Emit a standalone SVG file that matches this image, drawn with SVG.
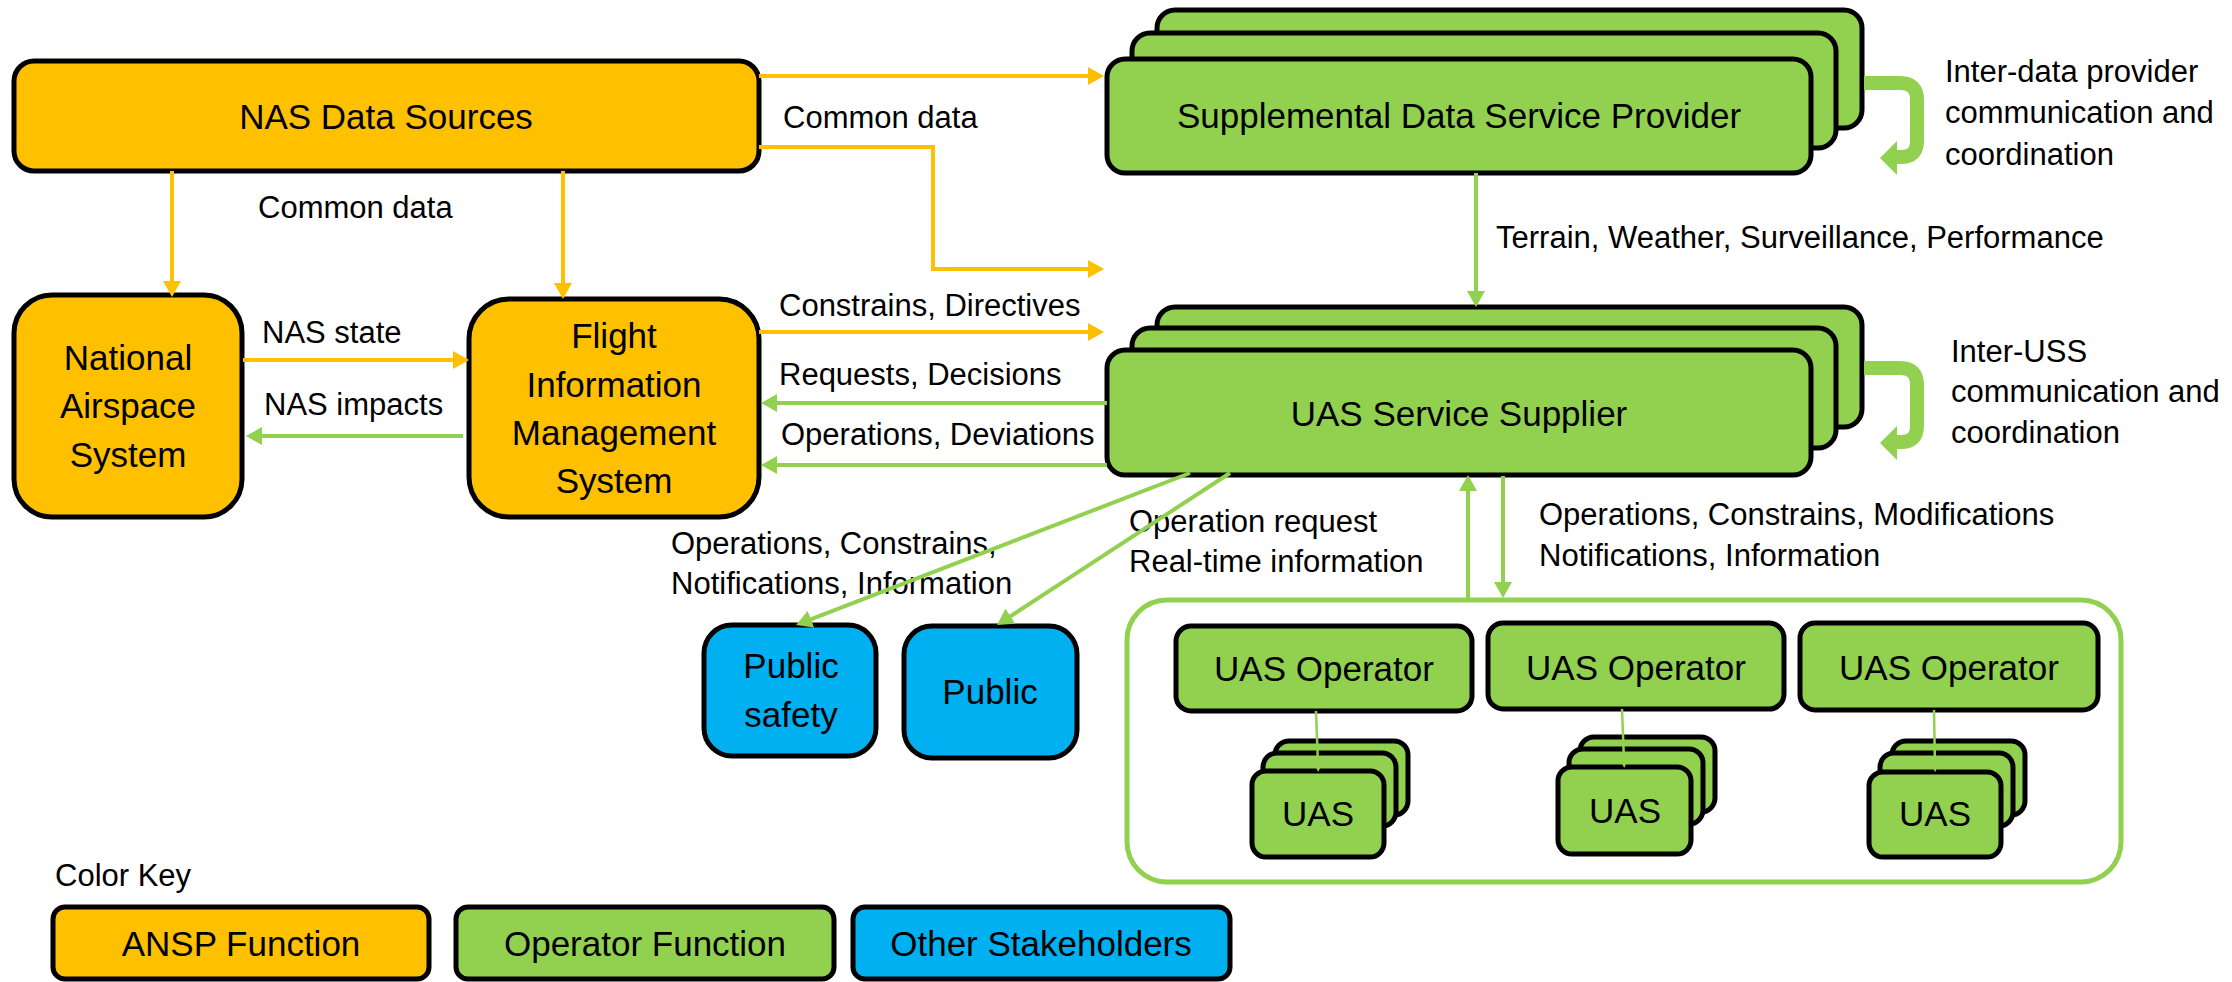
<svg xmlns="http://www.w3.org/2000/svg" width="2232" height="982" viewBox="0 0 2232 982">
<defs>
<style>
.o{fill:#FFC000}.g{fill:#92D050}.b{fill:#00B0F0}
.bx{stroke:#000;stroke-width:5}
.t{font-family:"Liberation Sans",Arial,sans-serif;font-size:35px;fill:#000;text-anchor:middle}
.l{font-family:"Liberation Sans",Arial,sans-serif;font-size:31px;fill:#000}
.co{stroke:#FFC000;stroke-width:4;fill:none}
.cg{stroke:#92D050;stroke-width:4;fill:none}
.cgt{stroke:#92D050;stroke-width:2.5;fill:none}
.cv{stroke:#92D050;stroke-width:14;fill:none}
</style>
<marker id="ao" markerUnits="userSpaceOnUse" markerWidth="16" markerHeight="18" refX="8" refY="9" orient="auto"><path d="M0,0 L16,9 L0,18 z" fill="#FFC000"/></marker>
<marker id="ag" markerUnits="userSpaceOnUse" markerWidth="16" markerHeight="18" refX="8" refY="9" orient="auto"><path d="M0,0 L16,9 L0,18 z" fill="#92D050"/></marker>
<marker id="as" markerUnits="userSpaceOnUse" markerWidth="14" markerHeight="14" refX="7" refY="7" orient="auto"><path d="M0,0 L14,7 L0,14 z" fill="#92D050"/></marker>
</defs>
<rect width="2232" height="982" fill="#fff"/>

<g id="labels">
<text class="l" x="783" y="128">Common data</text>
<text class="l" x="258" y="218">Common data</text>
<text class="l" x="262" y="343">NAS state</text>
<text class="l" x="264" y="415">NAS impacts</text>
<text class="l" x="779" y="316">Constrains, Directives</text>
<text class="l" x="779" y="385">Requests, Decisions</text>
<text class="l" x="781" y="445">Operations, Deviations</text>
<text class="l" x="1496" y="248">Terrain, Weather, Surveillance, Performance</text>
<text class="l" x="1945" y="82">Inter-data provider</text>
<text class="l" x="1945" y="123">communication and</text>
<text class="l" x="1945" y="165">coordination</text>
<text class="l" x="1951" y="362">Inter-USS</text>
<text class="l" x="1951" y="402">communication and</text>
<text class="l" x="1951" y="443">coordination</text>
<text class="l" x="671" y="554">Operations, Constrains,</text>
<text class="l" x="671" y="594">Notifications, Information</text>
<text class="l" x="1129" y="532">Operation request</text>
<text class="l" x="1129" y="572">Real-time information</text>
<text class="l" x="1539" y="525">Operations, Constrains, Modifications</text>
<text class="l" x="1539" y="566">Notifications, Information</text>
<text class="l" x="55" y="886">Color Key</text>
</g>

<g id="nas-data-sources">
<rect class="o bx" x="14" y="61" width="745" height="110" rx="20"/>
<text class="t" x="386" y="129">NAS Data Sources</text>
</g>
<g id="national-airspace-system">
<rect class="o bx" x="14" y="295" width="228" height="222" rx="38"/>
<text class="t" x="128" y="370">National</text>
<text class="t" x="128" y="418">Airspace</text>
<text class="t" x="128" y="467">System</text>
</g>
<g id="fims">
<rect class="o bx" x="469" y="299" width="290" height="218" rx="40"/>
<text class="t" x="614" y="348">Flight</text>
<text class="t" x="614" y="397">Information</text>
<text class="t" x="614" y="445">Management</text>
<text class="t" x="614" y="493">System</text>
</g>
<g id="supplemental-data-service-provider">
<rect class="g bx" x="1157" y="10" width="705" height="118" rx="18"/>
<rect class="g bx" x="1132" y="33" width="704" height="115" rx="18"/>
<rect class="g bx" x="1107" y="59" width="704" height="114" rx="18"/>
<text class="t" x="1459" y="128">Supplemental Data Service Provider</text>
</g>
<g id="uas-service-supplier">
<rect class="g bx" x="1157" y="307" width="705" height="120" rx="18"/>
<rect class="g bx" x="1132" y="328" width="704" height="120" rx="18"/>
<rect class="g bx" x="1107" y="350" width="704" height="125" rx="18"/>
<text class="t" x="1459" y="426">UAS Service Supplier</text>
</g>
<g id="public-safety">
<rect class="b bx" x="704" y="625" width="172" height="131" rx="28"/>
<text class="t" x="791" y="678">Public</text>
<text class="t" x="791" y="727">safety</text>
</g>
<g id="public">
<rect class="b bx" x="904" y="626" width="173" height="132" rx="28"/>
<text class="t" x="990" y="704">Public</text>
</g>
<g id="operators">
<rect x="1127" y="600" width="994" height="282" rx="40" fill="#fff" stroke="#92D050" stroke-width="5"/>
</g>
<g id="uas-operator-1">
<rect class="g bx" x="1176" y="626" width="296" height="85" rx="15"/>
<text class="t" x="1324" y="681">UAS Operator</text>
</g>
<g id="uas-operator-2">
<rect class="g bx" x="1488" y="623" width="296" height="86" rx="15"/>
<text class="t" x="1636" y="680">UAS Operator</text>
</g>
<g id="uas-operator-3">
<rect class="g bx" x="1800" y="623" width="298" height="87" rx="15"/>
<text class="t" x="1949" y="680">UAS Operator</text>
</g>
<g id="uas-1">
<rect class="g bx" x="1275" y="741" width="133" height="74" rx="14"/>
<rect class="g bx" x="1263" y="753" width="133" height="73" rx="14"/>
<rect class="g bx" x="1252" y="771" width="132" height="86" rx="14"/>
<text class="t" x="1318" y="826">UAS</text>
</g>
<g id="uas-2">
<rect class="g bx" x="1580" y="737" width="135" height="75" rx="14"/>
<rect class="g bx" x="1569" y="749" width="134" height="75" rx="14"/>
<rect class="g bx" x="1558" y="767" width="133" height="87" rx="14"/>
<text class="t" x="1625" y="823">UAS</text>
</g>
<g id="uas-3">
<rect class="g bx" x="1892" y="741" width="133" height="74" rx="14"/>
<rect class="g bx" x="1880" y="753" width="133" height="73" rx="14"/>
<rect class="g bx" x="1869" y="772" width="132" height="85" rx="14"/>
<text class="t" x="1935" y="826">UAS</text>
</g>
<g id="key-ansp">
<rect class="o bx" x="53" y="907" width="376" height="72" rx="12"/>
<text class="t" x="241" y="956">ANSP Function</text>
</g>
<g id="key-operator">
<rect class="g bx" x="456" y="907" width="378" height="72" rx="12"/>
<text class="t" x="645" y="956">Operator Function</text>
</g>
<g id="key-other">
<rect class="b bx" x="853" y="907" width="377" height="72" rx="12"/>
<text class="t" x="1041" y="956">Other Stakeholders</text>
</g>

<g id="connectors">
<line class="co" x1="759" y1="76" x2="1096" y2="76" marker-end="url(#ao)"/>
<polyline class="co" points="759,147 933,147 933,269 1096,269" marker-end="url(#ao)"/>
<line class="co" x1="172" y1="171" x2="172" y2="289" marker-end="url(#ao)"/>
<line class="co" x1="563" y1="171" x2="563" y2="291" marker-end="url(#ao)"/>
<line class="co" x1="243" y1="360" x2="461" y2="360" marker-end="url(#ao)"/>
<line class="cg" x1="463" y1="436" x2="254" y2="436" marker-end="url(#ag)"/>
<line class="co" x1="759" y1="332" x2="1096" y2="332" marker-end="url(#ao)"/>
<line class="cg" x1="1107" y1="403" x2="769" y2="403" marker-end="url(#ag)"/>
<line class="cg" x1="1107" y1="465" x2="769" y2="465" marker-end="url(#ag)"/>
<line class="cg" x1="1476" y1="173" x2="1476" y2="299" marker-end="url(#ag)"/>
<line class="cg" x1="1190" y1="473" x2="803.5" y2="622.1" marker-end="url(#ag)"/>
<line class="cg" x1="1230" y1="473" x2="1003.7" y2="620.6" marker-end="url(#ag)"/>
<line class="cg" x1="1468" y1="600" x2="1468" y2="483" marker-end="url(#ag)"/>
<line class="cg" x1="1503" y1="476" x2="1503" y2="590" marker-end="url(#ag)"/>
<line class="cgt" x1="1316" y1="711" x2="1318" y2="765" marker-end="url(#as)"/>
<line class="cgt" x1="1622" y1="709" x2="1624" y2="761" marker-end="url(#as)"/>
<line class="cgt" x1="1934" y1="710" x2="1935" y2="765" marker-end="url(#as)"/>
<path class="cv" d="M1864,83 H1900 Q1917,83 1917,100 V141 Q1917,157 1901,157 H1894"/>
<polygon class="g" points="1880,158 1897,141 1897,175"/>
<path class="cv" d="M1864,368 H1900 Q1917,368 1917,385 V426 Q1917,442 1901,442 H1894"/>
<polygon class="g" points="1880,443 1897,426 1897,460"/>
</g>
</svg>
